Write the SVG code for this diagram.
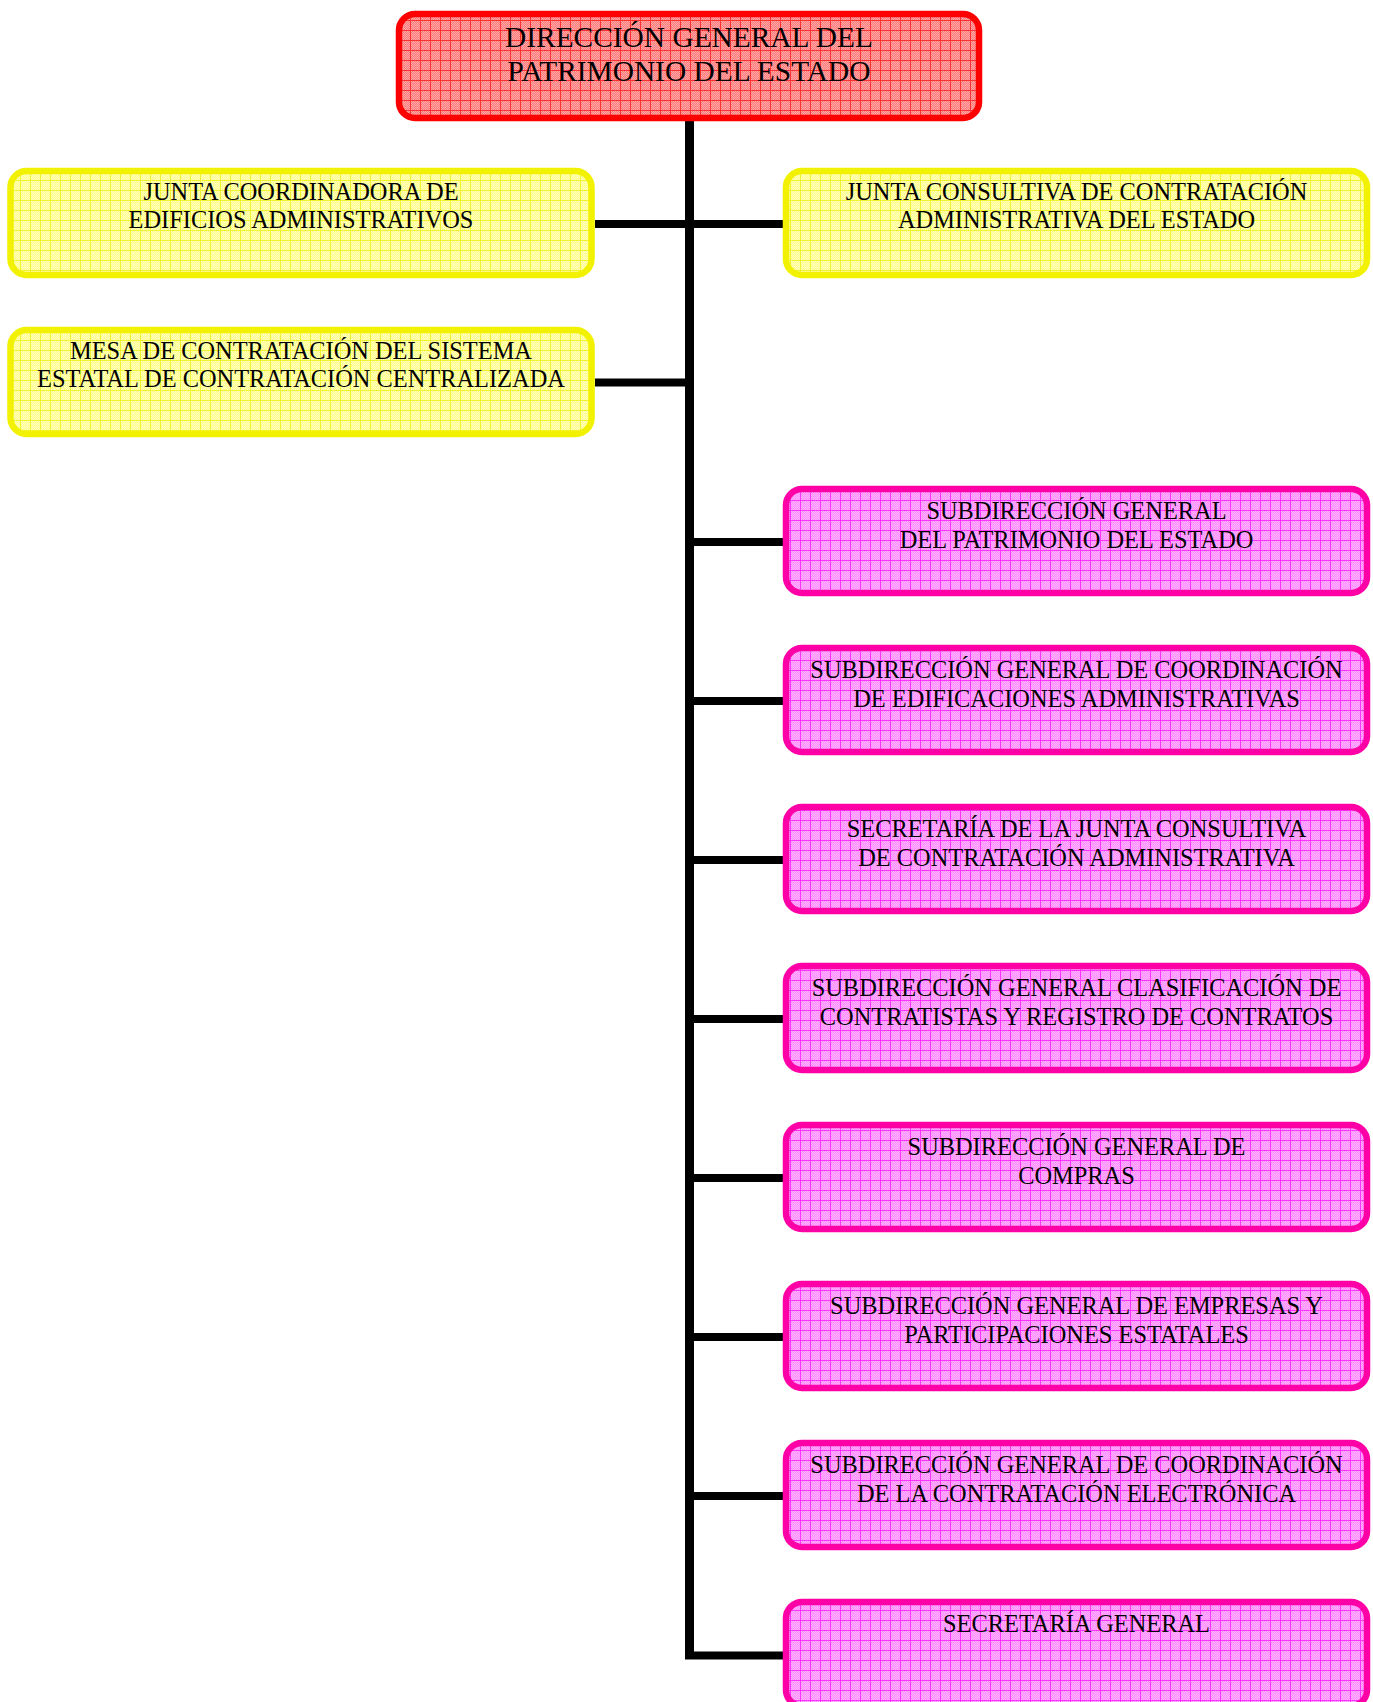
<svg xmlns="http://www.w3.org/2000/svg" width="1373" height="1702" viewBox="0 0 1373 1702">
<defs>
<pattern id="dotP" width="2" height="2" patternUnits="userSpaceOnUse"><rect width="2" height="2" fill="#ff8cff"/><rect width="1" height="1" fill="#ffb4ff"/><rect x="1" y="1" width="1" height="1" fill="#ffb4ff"/></pattern>
<pattern id="gridP" width="10" height="10" patternUnits="userSpaceOnUse"><rect width="10" height="10" fill="url(#dotP)"/><rect width="10" height="1" fill="#ff33ff"/><rect width="1" height="10" fill="#ff33ff"/></pattern>
<pattern id="dotY" width="2" height="2" patternUnits="userSpaceOnUse"><rect width="2" height="2" fill="#ffff8c"/><rect width="1" height="1" fill="#ffffc0"/><rect x="1" y="1" width="1" height="1" fill="#ffffc0"/></pattern>
<pattern id="gridY" width="10" height="10" patternUnits="userSpaceOnUse"><rect width="10" height="10" fill="url(#dotY)"/><rect width="10" height="1" fill="#f2f230"/><rect width="1" height="10" fill="#f2f230"/></pattern>
<pattern id="dotR" width="2" height="2" patternUnits="userSpaceOnUse"><rect width="2" height="2" fill="#ff7a7a"/><rect width="1" height="1" fill="#ffa8a8"/><rect x="1" y="1" width="1" height="1" fill="#ffa8a8"/></pattern>
<pattern id="gridR" width="10" height="10" patternUnits="userSpaceOnUse"><rect width="10" height="10" fill="url(#dotR)"/><rect width="10" height="1" fill="#ff3030"/><rect width="1" height="10" fill="#ff3030"/></pattern>
</defs>
<style>
.box{stroke-width:6.5}
.p{fill:url(#gridP);stroke:#ff00a6}
.y{fill:url(#gridY);stroke:#f2f200}
.r{fill:url(#gridR);stroke:#ff0000}
text{font-family:"Liberation Serif","Times New Roman",serif;font-size:24.4px;fill:#000;text-anchor:middle}
.big{font-size:29.4px}
.conn{stroke:#000;fill:none;stroke-linejoin:miter;stroke-linecap:butt}
</style>
<rect width="1373" height="1702" fill="#fff"/>
<g id="connectors">
<path class="conn" d="M689.5 121 V1659" stroke-width="9"/>
<path class="conn" d="M595 224 H783" stroke-width="8"/>
<path class="conn" d="M595 382.5 H689" stroke-width="8"/>
<path class="conn" d="M689 542 H783 M689 701 H783 M689 860 H783 M689 1019 H783 M689 1178 H783 M689 1337 H783 M689 1496 H783 M685 1655.5 H783" stroke-width="8"/>
</g>
<g id="n-direccion">
<rect class="box r" x="399" y="14" width="580" height="104" rx="16"/>
<text class="big" x="689" y="47">DIRECCIÓN GENERAL DEL</text>
<text class="big" x="689" y="81">PATRIMONIO DEL ESTADO</text>
</g>
<g id="n-junta-coord">
<rect class="box y" x="10.5" y="171" width="581" height="104" rx="16"/>
<text x="301" y="200">JUNTA COORDINADORA DE</text>
<text x="301" y="228">EDIFICIOS ADMINISTRATIVOS</text>
</g>
<g id="n-junta-consult">
<rect class="box y" x="786" y="171" width="581" height="104" rx="16"/>
<text x="1076.5" y="200">JUNTA CONSULTIVA DE CONTRATACIÓN</text>
<text x="1076.5" y="228">ADMINISTRATIVA DEL ESTADO</text>
</g>
<g id="n-mesa">
<rect class="box y" x="10.5" y="330" width="581" height="104" rx="16"/>
<text x="301" y="359">MESA DE CONTRATACIÓN DEL SISTEMA</text>
<text x="301" y="387">ESTATAL DE CONTRATACIÓN CENTRALIZADA</text>
</g>
<g id="n-sg-patrimonio">
<rect class="box p" x="786" y="489" width="581" height="104" rx="16"/>
<text x="1076.5" y="519">SUBDIRECCIÓN GENERAL</text>
<text x="1076.5" y="548">DEL PATRIMONIO DEL ESTADO</text>
</g>
<g id="n-sg-edificaciones">
<rect class="box p" x="786" y="648" width="581" height="104" rx="16"/>
<text x="1076.5" y="678">SUBDIRECCIÓN GENERAL DE COORDINACIÓN</text>
<text x="1076.5" y="707">DE EDIFICACIONES ADMINISTRATIVAS</text>
</g>
<g id="n-secretaria-junta">
<rect class="box p" x="786" y="807" width="581" height="104" rx="16"/>
<text x="1076.5" y="837">SECRETARÍA DE LA JUNTA CONSULTIVA</text>
<text x="1076.5" y="866">DE CONTRATACIÓN ADMINISTRATIVA</text>
</g>
<g id="n-sg-clasificacion">
<rect class="box p" x="786" y="966" width="581" height="104" rx="16"/>
<text x="1076.5" y="996">SUBDIRECCIÓN GENERAL CLASIFICACIÓN DE</text>
<text x="1076.5" y="1025">CONTRATISTAS Y REGISTRO DE CONTRATOS</text>
</g>
<g id="n-sg-compras">
<rect class="box p" x="786" y="1125" width="581" height="104" rx="16"/>
<text x="1076.5" y="1155">SUBDIRECCIÓN GENERAL DE</text>
<text x="1076.5" y="1184">COMPRAS</text>
</g>
<g id="n-sg-empresas">
<rect class="box p" x="786" y="1284" width="581" height="104" rx="16"/>
<text x="1076.5" y="1314">SUBDIRECCIÓN GENERAL DE EMPRESAS Y</text>
<text x="1076.5" y="1343">PARTICIPACIONES ESTATALES</text>
</g>
<g id="n-sg-electronica">
<rect class="box p" x="786" y="1443" width="581" height="104" rx="16"/>
<text x="1076.5" y="1473">SUBDIRECCIÓN GENERAL DE COORDINACIÓN</text>
<text x="1076.5" y="1502">DE LA CONTRATACIÓN ELECTRÓNICA</text>
</g>
<g id="n-secretaria-general">
<rect class="box p" x="786" y="1602" width="581" height="104" rx="16"/>
<text x="1076.5" y="1632">SECRETARÍA GENERAL</text>
</g>
</svg>
